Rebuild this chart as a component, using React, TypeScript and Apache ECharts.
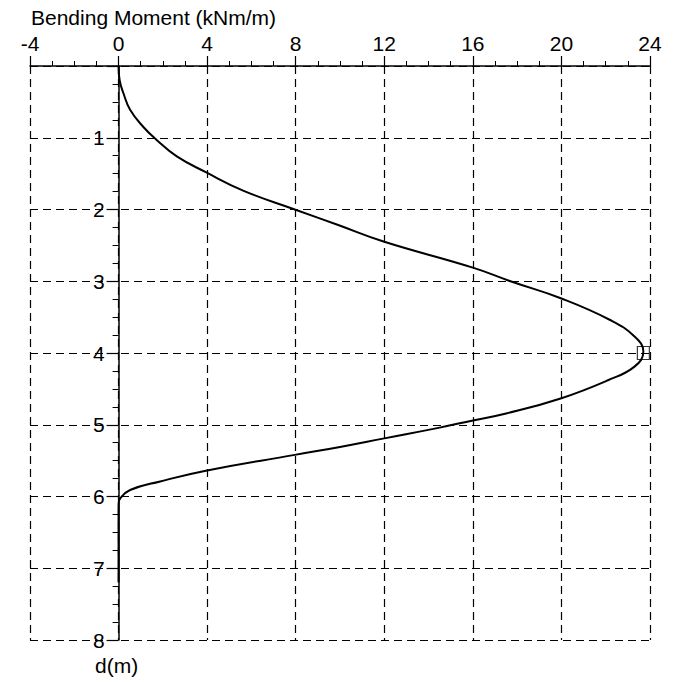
import React, { useEffect, useRef } from "react";
import * as echarts from "echarts";

const depth = [0, 0.2, 0.38, 0.61, 0.85, 1.03, 1.26, 1.48, 1.74, 2.0, 2.22, 2.45, 2.81, 3.0, 3.24, 3.54, 3.77, 3.98, 4.19, 4.38, 4.63, 4.84, 4.94, 5.04, 5.19, 5.31, 5.42, 5.64, 5.79, 5.91, 6.03, 6.1, 7.2];
const moment = [0, 0.05, 0.22, 0.52, 1.12, 1.72, 2.63, 3.94, 5.65, 7.96, 9.95, 12.0, 16.0, 17.7, 20.0, 22.2, 23.3, 23.7, 23.3, 22.1, 20.0, 17.55, 16.0, 14.5, 12.0, 10.0, 7.96, 3.94, 1.88, 0.52, 0.07, 0, 0];
const maxPoint = [23.7, 4.0];
const xTitle = "Bending Moment (kNm/m)";
const yTitle = "d(m)";

const FONT = "Liberation Sans, Arial, sans-serif";
const GRID_LEFT = 30;
const GRID_RIGHT = 33;
const WIDTH = 683;
const X_MIN = -4;
const X_MAX = 24;

export default function App() {
  const ref = useRef<HTMLDivElement>(null);
  useEffect(() => {
    if (!ref.current) return;
    const chart = echarts.init(ref.current, null, { renderer: "svg" });
    const lineData = depth.map((d, i) => [moment[i], d]);
    const plotW = WIDTH - GRID_LEFT - GRID_RIGHT;
    const zeroOffset = -((0 - X_MIN) / (X_MAX - X_MIN)) * plotW;
    chart.setOption({
      animation: false,
      backgroundColor: "#ffffff",
      textStyle: { fontFamily: FONT },
      grid: { left: GRID_LEFT, right: GRID_RIGHT, top: 66, bottom: 42, containLabel: false, outerBoundsMode: "none" },
      xAxis: {
        type: "value",
        position: "top",
        min: X_MIN,
        max: X_MAX,
        interval: 4,
        axisLine: { show: true, onZero: false, lineStyle: { color: "#000", width: 1.5 } },
        axisTick: { show: true, inside: false, length: 10, lineStyle: { color: "#000", width: 1.2 } },
        minorTick: { show: true, splitNumber: 4, length: 5, lineStyle: { color: "#000", width: 1 } },
        axisLabel: { color: "#000", fontSize: 21, fontFamily: FONT, margin: 12 },
        splitLine: { show: true, lineStyle: { color: "#000", width: 1.2, type: [8, 5] } },
      },
      yAxis: {
        type: "value",
        inverse: true,
        position: "left",
        offset: zeroOffset,
        min: 0,
        max: 8,
        interval: 1,
        axisLine: { show: true, onZero: false, lineStyle: { color: "#000", width: 1.5 } },
        axisTick: { show: true, inside: false, length: 12, lineStyle: { color: "#000", width: 1.2 } },
        minorTick: { show: true, splitNumber: 4, length: 6, lineStyle: { color: "#000", width: 1 } },
        axisLabel: {
          color: "#000",
          fontSize: 21,
          fontFamily: FONT,
          margin: 14,
          formatter: (v: number) => (v === 0 ? "" : String(v)),
        },
        splitLine: { show: true, lineStyle: { color: "#000", width: 1.2, type: [8, 5] } },
      },
      graphic: [
        {
          type: "text",
          left: 31,
          top: 7,
          style: { text: xTitle, fontSize: 21, fontFamily: FONT, fill: "#000" },
        },
        {
          type: "text",
          left: 95,
          top: 655,
          style: { text: yTitle, fontSize: 21, fontFamily: FONT, fill: "#000" },
        },
      ],
      series: [
        {
          type: "line",
          data: lineData,
          smooth: 0.45,
          showSymbol: false,
          symbol: "none",
          lineStyle: { color: "#000", width: 2 },
          z: 3,
        },
        {
          type: "scatter",
          data: [maxPoint],
          symbol: "rect",
          symbolSize: [12, 13],
          itemStyle: { color: "rgba(255,255,255,0)", borderColor: "#000", borderWidth: 1.2 },
          z: 4,
        },
      ],
    });
    return () => chart.dispose();
  }, []);
  return (
    <div
      ref={ref}
      style={{ position: "absolute", left: 0, top: 0, width: 683, height: 682, background: "#fff" }}
    />
  );
}
